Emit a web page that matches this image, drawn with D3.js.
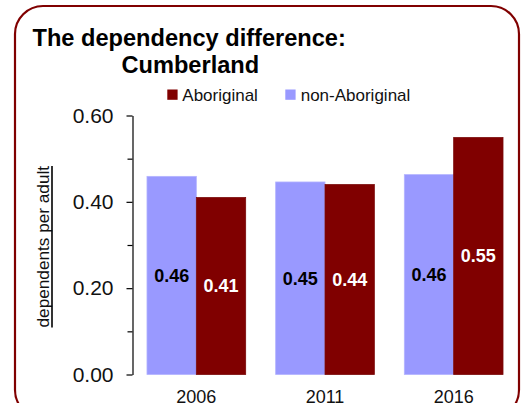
<!DOCTYPE html>
<html><head><meta charset="utf-8">
<script src="https://cdn.jsdelivr.net/npm/d3@7"></script>
<style>
html,body{margin:0;padding:0;background:#fff;}
svg{display:block;font-family:"Liberation Sans",Arial,sans-serif;}
</style></head>
<body><svg id="c" width="529" height="403"></svg>
<script>
const years = ["2006","2011","2016"];
const seriesNames = ["non-Aboriginal","Aboriginal"];
const nonAboriginal = [0.459, 0.446, 0.463];
const aboriginal = [0.410, 0.440, 0.549];
const nonAboriginalLabels = ["0.46","0.45","0.46"];
const aboriginalLabels = ["0.41","0.44","0.55"];
const yTicks = [0, 0.2, 0.4, 0.6];
const yMinorTicks = [0.1, 0.3, 0.5];
const colors = {"non-Aboriginal":"#9999FF","Aboriginal":"#800000"};
const labelColors = {"non-Aboriginal":"#000","Aboriginal":"#fff"};

const svg = d3.select("#c");

// frame
svg.append("rect").attr("x",15).attr("y",6).attr("width",504).attr("height",412)
  .attr("rx",28).attr("ry",28).attr("fill","none").attr("stroke","#800000").attr("stroke-width",2.2);

// title
svg.append("text").attr("x",32.5).attr("y",45.5).attr("font-size",23.6).attr("font-weight","bold")
  .text("The dependency difference:");
svg.append("text").attr("x",121.5).attr("y",72.5).attr("font-size",23.6).attr("font-weight","bold")
  .text("Cumberland");

// scales
const x0 = d3.scaleBand().domain(years).range([132,518]).paddingInner(0.233).paddingOuter(0.1165);
const x1 = d3.scaleBand().domain(seriesNames).range([0,x0.bandwidth()]);
const y = d3.scaleLinear().domain([0,0.6]).range([374.5,115.5]);

const rows = years.map((yr,i)=>({year:yr, vals:[
  {s:"non-Aboriginal", v:nonAboriginal[i], lab:nonAboriginalLabels[i]},
  {s:"Aboriginal", v:aboriginal[i], lab:aboriginalLabels[i]}]}));

const g = svg.selectAll("g.cat").data(rows).join("g").attr("class","cat")
  .attr("transform",d=>`translate(${x0(d.year)},0)`);
g.selectAll("rect").data(d=>d.vals).join("rect")
  .attr("x",d=>x1(d.s)).attr("width",x1.bandwidth())
  .attr("y",d=>y(d.v)).attr("height",d=>y(0)-y(d.v))
  .attr("fill",d=>colors[d.s])
  .attr("stroke",d=>d.s==="Aboriginal"?"#7a0a0a":"#b3b3ff").attr("stroke-width",0.8);
g.selectAll("text").data(d=>d.vals).join("text")
  .attr("x",d=>x1(d.s)+x1.bandwidth()/2)
  .attr("y",d=>(y(d.v)+y(0))/2)
  .attr("dy","0.36em").attr("text-anchor","middle")
  .attr("font-size",18).attr("font-weight","bold")
  .attr("fill",d=>labelColors[d.s]).text(d=>d.lab);

// y axis
const yAxis = d3.axisLeft(y).tickValues(yTicks).tickFormat(d3.format(".2f")).tickSize(6).tickPadding(13).tickSizeOuter(0);
const ga = svg.append("g").attr("transform","translate(132.5,0)").call(yAxis);
ga.select(".domain").attr("stroke","#000").attr("stroke-width",1.2);
ga.selectAll(".tick line").attr("stroke","#000").attr("stroke-width",1.2);
ga.selectAll(".tick text").attr("font-size",21).attr("font-family","Liberation Sans, Arial, sans-serif").attr("fill","#111");
const minor = d3.axisLeft(y).tickValues(yMinorTicks).tickSize(5).tickFormat("").tickSizeOuter(0);
const gm = svg.append("g").attr("transform","translate(132.5,0)").call(minor);
gm.select(".domain").remove();
gm.selectAll(".tick line").attr("stroke","#000").attr("stroke-width",1.2);

// x labels
svg.append("g").selectAll("text").data(years).join("text")
  .attr("x",d=>x0(d)+x0.bandwidth()/2).attr("y",403)
  .attr("text-anchor","middle").attr("font-size",18).attr("fill","#111").text(d=>d);

// y title with manual underline
const yt = svg.append("text").attr("transform","translate(49,246.7) rotate(-90)")
  .attr("text-anchor","middle").attr("font-size",17.2)
  .attr("fill","#111").text("dependents per adult");
const tl = yt.node().getComputedTextLength();
svg.append("line").attr("x1",52).attr("x2",52)
  .attr("y1",246.7-tl/2).attr("y2",246.7+tl/2)
  .attr("stroke","#000").attr("stroke-width",1.6);

// legend
const legendItems = [{s:"Aboriginal", x:167.3, tx:182.3},{s:"non-Aboriginal", x:285.3, tx:300.7}];
const lg = svg.append("g");
lg.selectAll("rect").data(legendItems).join("rect")
  .attr("x",d=>d.x).attr("y",89.5).attr("width",10.3).attr("height",10.3).attr("fill",d=>colors[d.s]);
lg.selectAll("text").data(legendItems).join("text")
  .attr("x",d=>d.tx).attr("y",101).attr("font-size",17).attr("fill","#111").text(d=>d.s);
</script></body></html>
